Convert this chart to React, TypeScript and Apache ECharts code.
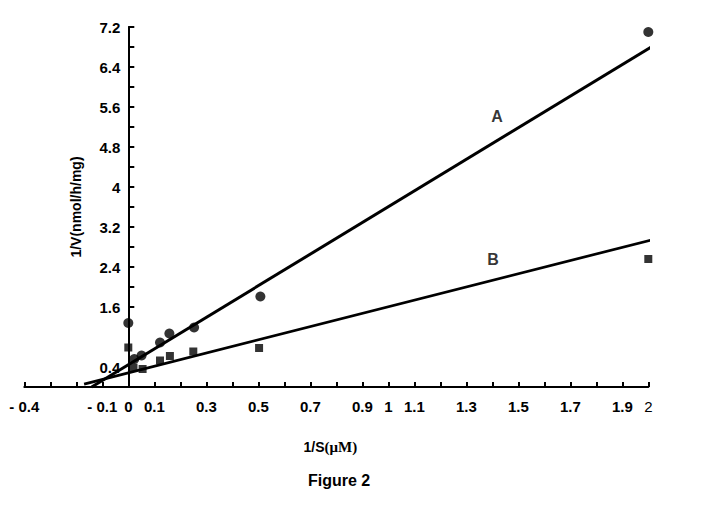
import React, { useEffect, useRef } from "react";
import * as echarts from "echarts";

// Series A (circles): [1/S, 1/V]
const seriesA: number[][] = [
  [0.0, 1.28],
  [0.023, 0.56],
  [0.051, 0.63],
  [0.122, 0.89],
  [0.158, 1.07],
  [0.253, 1.19],
  [0.508, 1.81],
  [2.0, 7.1],
];
// Series B (squares)
const seriesB: number[][] = [
  [0.0, 0.79],
  [0.02, 0.39],
  [0.055, 0.36],
  [0.122, 0.53],
  [0.16, 0.62],
  [0.25, 0.71],
  [0.503, 0.78],
  [2.0, 2.56],
];
// Fitted lines (end points)
const lineA: number[][] = [
  [-0.141, 0.0],
  [2.103, 7.09],
];
const lineB: number[][] = [
  [-0.17, 0.057],
  [2.17, 3.15],
];
// Line name labels placed in data coordinates
const lineLabels = [
  { name: "A", value: [1.418, 5.42] },
  { name: "B", value: [1.403, 2.56] },
];
const xLabelValues = [-0.4, -0.1, 0, 0.1, 0.3, 0.5, 0.7, 0.9, 1, 1.1, 1.3, 1.5, 1.7, 1.9, 2];
const yLabelValues = [0.4, 1.6, 2.4, 3.2, 4, 4.8, 5.6, 6.4, 7.2];
const yTickValues = [1.6, 2.0, 2.4, 2.8, 3.2, 3.6, 4.0, 4.4, 4.8, 5.2, 5.6, 6.0, 6.4, 6.8, 7.2];

const X_MIN = -0.4;
const X_MAX = 2;
const GRID_LEFT = 24.3;
const GRID_RIGHT = 52.7;
const FONT = '"Liberation Sans", Arial, Helvetica, sans-serif';

export default function App() {
  const ref = useRef<HTMLDivElement>(null);
  useEffect(() => {
    if (!ref.current) return;
    const chart = echarts.init(ref.current, undefined, { renderer: "svg" });
    const gridWidth = 701 - GRID_LEFT - GRID_RIGHT;
    // place the y axis at x = 0
    const yOffset = -((0 - X_MIN) / (X_MAX - X_MIN)) * gridWidth;
    chart.setOption({
      animation: false,
      backgroundColor: "#ffffff",
      grid: {
        left: GRID_LEFT,
        right: GRID_RIGHT,
        top: 27,
        bottom: 119,
        containLabel: false,
        outerBoundsMode: "none",
      },
      xAxis: {
        type: "value",
        min: X_MIN,
        max: X_MAX,
        interval: 0.1,
        name: "1/S{u|(μM)}",
        nameLocation: "middle",
        nameGap: 52,
        nameTextStyle: {
          fontFamily: FONT,
          fontWeight: "bold",
          fontSize: 14,
          color: "#000",
          padding: [0, 12, 0, 0],
          rich: {
            u: { fontFamily: '"Liberation Serif", "Times New Roman", serif', fontSize: 15, fontWeight: "bold", color: "#000" },
          },
        },
        axisLine: { onZero: true, lineStyle: { color: "#000", width: 2 } },
        axisTick: { show: true, inside: true, length: 5, lineStyle: { color: "#000", width: 2 } },
        splitLine: { show: false },
        axisLabel: {
          customValues: xLabelValues,
          showMinLabel: true,
          showMaxLabel: true,
          hideOverlap: false,
          margin: 12,
          fontFamily: FONT,
          fontWeight: "bold",
          fontSize: 15,
          color: "#000",
          formatter: (v: number) => {
            const r = Math.round(v * 10) / 10;
            if (r === -0.4) return "- 0.4";
            if (r === -0.1) return "- 0.1";
            if (r === 2) return "{n|2}";
            return String(r);
          },
          rich: { n: { fontFamily: FONT, fontWeight: "normal", fontSize: 15, color: "#000" } },
        },
      },
      yAxis: {
        type: "value",
        min: 0,
        max: 7.2,
        interval: 0.4,
        offset: yOffset,
        name: "1/V(nmol/h/mg)",
        nameLocation: "middle",
        nameRotate: 90,
        nameGap: 45,
        nameTextStyle: { fontFamily: FONT, fontWeight: "bold", fontSize: 14, color: "#000" },
        axisLine: { show: true, onZero: false, lineStyle: { color: "#000", width: 2 } },
        axisTick: {
          show: true,
          inside: true,
          length: 6,
          customValues: yTickValues,
          lineStyle: { color: "#000", width: 2 },
        },
        splitLine: { show: false },
        axisLabel: {
          customValues: yLabelValues,
          margin: 8,
          fontFamily: FONT,
          fontWeight: "bold",
          fontSize: 15,
          color: "#000",
          formatter: (v: number) => String(Math.round(v * 10) / 10),
        },
      },
      graphic: [
        {
          type: "text",
          left: 308,
          top: 472,
          style: { text: "Figure 2", font: `bold 16px ${FONT}`, fill: "#000" },
        },
      ],
      series: [
        {
          type: "line",
          data: lineA,
          showSymbol: false,
          clip: false,
          lineStyle: { color: "#000", width: 3 },
          z: 2,
        },
        {
          type: "line",
          data: lineB,
          showSymbol: false,
          clip: false,
          lineStyle: { color: "#000", width: 2.7 },
          z: 2,
        },
        {
          type: "scatter",
          name: "A",
          data: seriesA,
          symbol: "circle",
          symbolSize: 10,
          clip: false,
          itemStyle: { color: "#000" },
          z: 3,
        },
        {
          type: "scatter",
          name: "B",
          data: seriesB,
          symbol: "rect",
          symbolSize: 8,
          clip: false,
          itemStyle: { color: "#000" },
          z: 3,
        },
        {
          type: "scatter",
          data: lineLabels,
          symbolSize: 0,
          label: {
            show: true,
            position: "inside",
            formatter: (p: any) => p.name,
            fontFamily: FONT,
            fontWeight: "bold",
            fontSize: 16,
            color: "#000",
          },
          z: 4,
        },
      ],
    });
    return () => chart.dispose();
  }, []);
  return (
    <div
      ref={ref}
      style={{ position: "fixed", left: 0, top: 0, width: 701, height: 506, background: "#fff" }}
    />
  );
}
